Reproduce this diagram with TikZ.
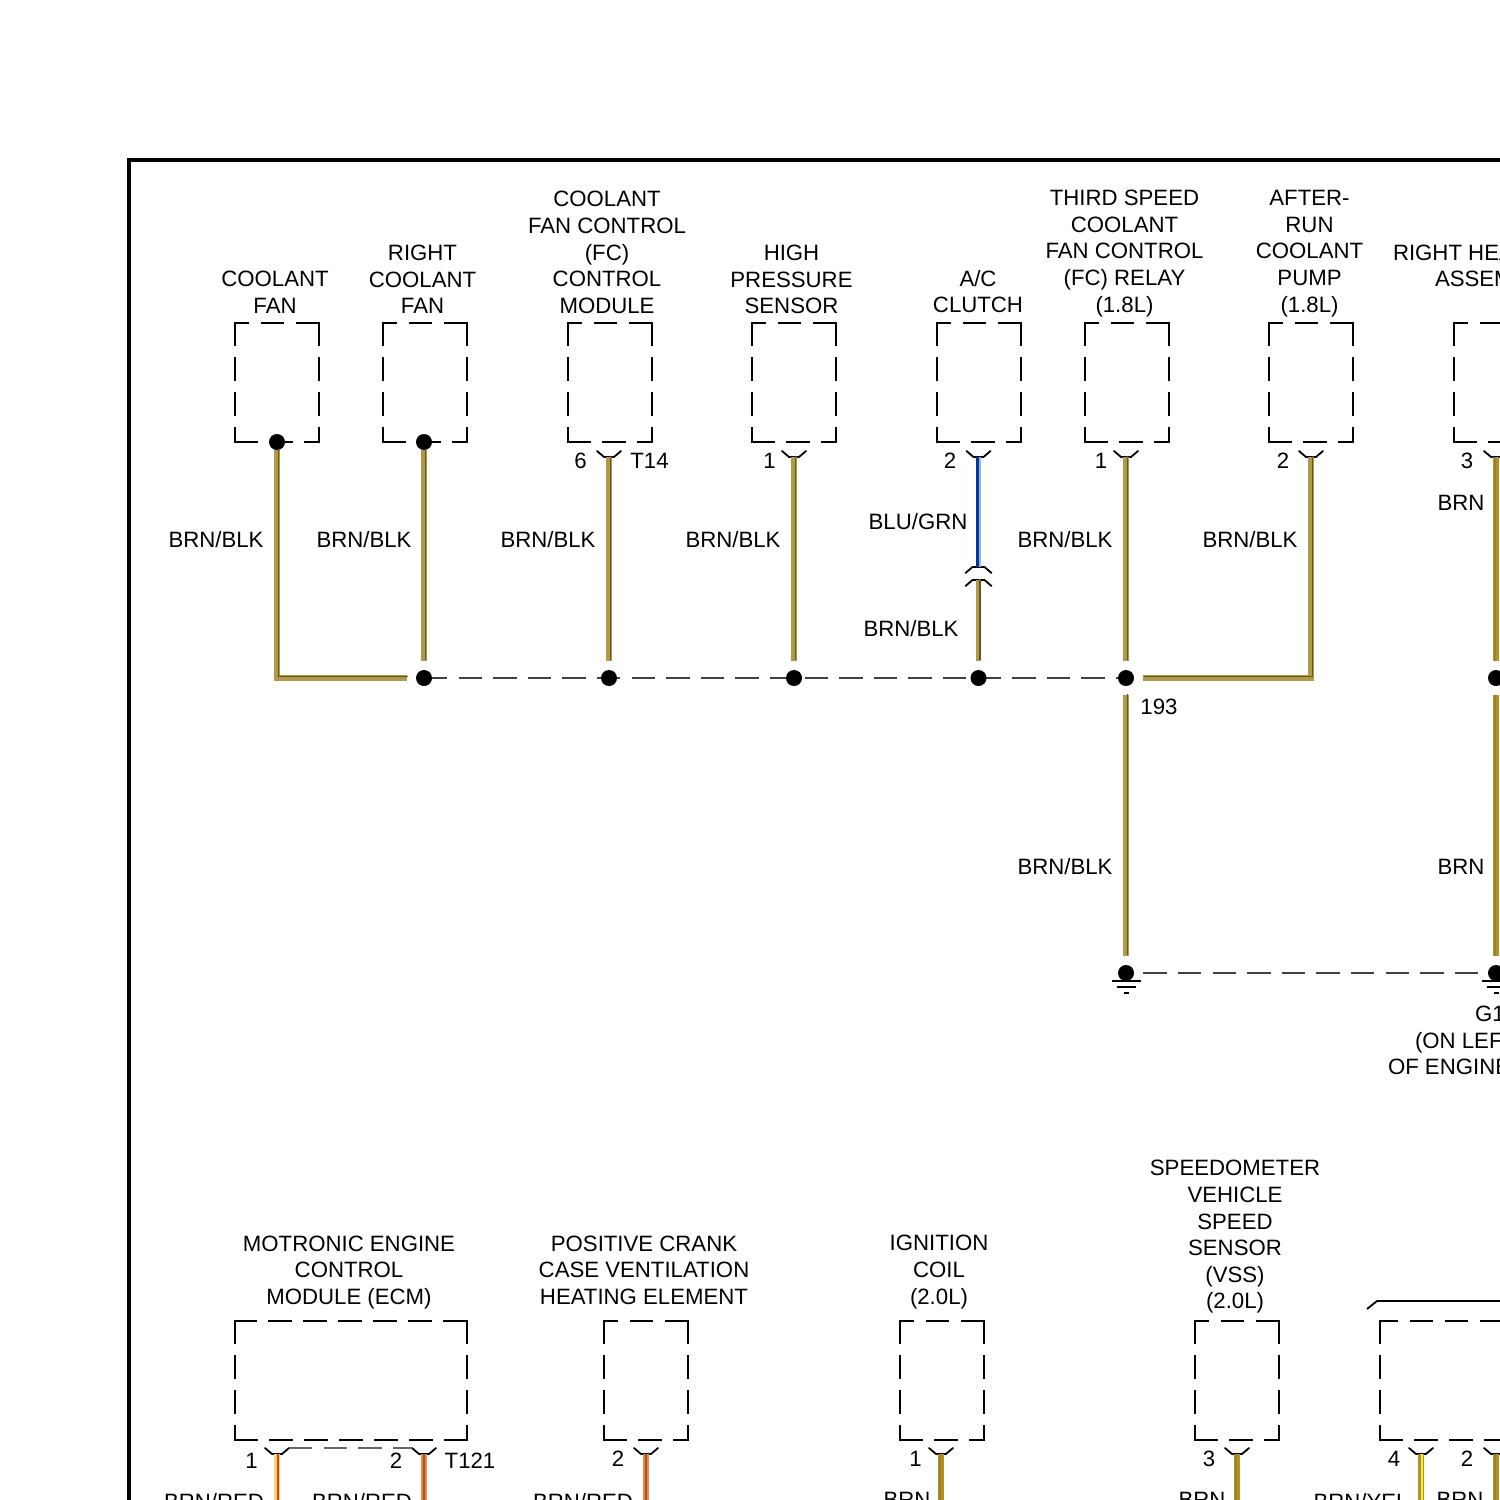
\documentclass[tikz,border=0pt]{standalone}
\usepackage{fontspec}
\usetikzlibrary{backgrounds}
\setmainfont{Liberation Sans}
\tikzset{
  lbl/.style={inner sep=0pt,outer sep=0pt,align=center,text=black,font=\fontsize{11.1}{13.3}\selectfont},
  lbll/.style={lbl,anchor=west,align=left},
  boxl/.style={draw=black,line width=.85pt,line cap=rect,dash pattern=on 10.9pt off 6.6pt},
  dot/.style={circle,fill=black,inner sep=0pt,minimum size=8pt,outer sep=0pt},
  socketl/.style={draw=black,line width=.9pt,line join=round,line cap=round},
  linkl/.style={draw=black!75,line width=.65pt,dash pattern=on 11.7pt off 5.6pt},
  gndl/.style={draw=black,line width=.8pt},
  frameline/.style={draw=black,line width=2pt,line join=miter},
  bkA/.style={draw=wirebk,line width=2.7pt,line cap=butt,line join=miter},
  bkB/.style={draw=wirebkd,line width=.7pt,line join=miter,transform canvas={xshift=.7pt,yshift=.7pt}},
  bnA/.style={draw=wirebn,line width=2.7pt},
  bnB/.style={draw=wirebnd,line width=.8pt,transform canvas={xshift=-.5pt}},
  blA/.style={draw=wirebg,line width=2.7pt},
  blB/.style={draw=wirebl,line width=1.6pt,transform canvas={xshift=-.4pt}},
  rdA/.style={draw=wirert,line width=2.7pt},
  rdB/.style={draw=wirer,line width=1.3pt,transform canvas={xshift=.4pt}},
  rcA/.style={draw=wirerc,line width=2.7pt},
  rcB/.style={draw=wirerd,line width=1.2pt},
  ylA/.style={draw=wirebn,line width=2.7pt},
  ylB/.style={draw=wirey,line width=1.2pt,transform canvas={xshift=.4pt}}
}
\definecolor{wirebk}{HTML}{AE9A48}
\definecolor{wirebkd}{HTML}{6B5518}
\definecolor{wirebn}{HTML}{B0902A}
\definecolor{wirebnd}{HTML}{A08020}
\definecolor{wirebg}{HTML}{86CBA8}
\definecolor{wirebl}{HTML}{0A2EB0}
\definecolor{wirert}{HTML}{F0D878}
\definecolor{wirer}{HTML}{E03A18}
\definecolor{wirerc}{HTML}{D89048}
\definecolor{wirerd}{HTML}{B84A20}
\definecolor{wirey}{HTML}{F8F040}
\newcommand{\dbox}[5]{%
  \draw[boxl,dash phase=#5] (#1,#2) -- (#3,#2);
  \draw[boxl] (#3,#2) -- (#3,#4);
  \draw[boxl] (#1,#2) -- (#1,#4);
  \draw[boxl] (#1,#4) -- (#3,#4);
}
\newcommand{\sock}[3]{%
  \coordinate (#1) at (#2,#3);
  \draw[socketl] ([shift={(-12,-6)}]#1) -- ([shift={(-5,0)}]#1) -- ([shift={(5,0)}]#1) -- ([shift={(12,-6)}]#1);
}
\newcommand{\wirep}[3]{\draw[#1A,#2] #3; \draw[#1B,#2] #3;}
\newcommand{\gnd}[1]{%
  \draw[gndl] ([shift={(-14.5,8)}]#1.center) -- ([shift={(14.5,8)}]#1.center);
  \draw[gndl] ([shift={(-9.5,14)}]#1.center) -- ([shift={(9.5,14)}]#1.center);
  \draw[gndl] ([shift={(-2.5,20)}]#1.center) -- ([shift={(2.5,20)}]#1.center);
}
\begin{document}
\begin{tikzpicture}[x=.5pt,y=-.5pt]
\path[use as bounding box] (0,0) rectangle (1500,1500);
\clip (0,0) rectangle (1500,1500);
\draw[frameline] (129,1510) -- (129,160) -- (1510,160);

% boxes, top row
\dbox{235}{323}{319}{442}{4.3pt}
\dbox{383}{323}{467}{442}{4.3pt}
\dbox{568}{323}{652}{442}{4.3pt}
\dbox{752}{323}{836}{442}{4.3pt}
\dbox{937}{323}{1021}{442}{4.3pt}
\dbox{1085}{323}{1169}{442}{4.3pt}
\dbox{1269}{323}{1353}{442}{4.3pt}
\dbox{1454}{323}{1538}{442}{4.3pt}
% boxes, bottom row
\dbox{235}{1321}{467}{1440}{0.5pt}
\dbox{604}{1321}{688}{1440}{4.3pt}
\dbox{900}{1321}{984}{1440}{4.3pt}
\dbox{1195}{1321}{1279}{1440}{4.3pt}
\dbox{1380}{1321}{1612}{1440}{2.2pt}
\draw[draw=black,line width=.9pt] (1367,1309) -- (1377,1301) -- (1510,1301);

% dots
\node[dot] (d1) at (277,442) {};
\node[dot] (d2) at (424,442) {};
\node[dot] (j2) at (424,678) {};
\node[dot] (j3) at (609,678) {};
\node[dot] (j4) at (794,678) {};
\node[dot] (j5) at (978.5,678) {};
\node[dot] (j6) at (1126,678) {};
\node[dot] (j7) at (1496,678) {};
\node[dot] (g1) at (1126,973) {};
\node[dot] (g2) at (1496,973) {};
\gnd{g1}
\gnd{g2}

% sockets
\sock{s3}{609}{457}
\sock{s4}{794}{457}
\sock{s5}{978.5}{457}
\sock{s6}{1126}{457}
\sock{s7}{1311}{457}
\sock{s8}{1496}{457}
\sock{b1}{277}{1454}
\sock{b2}{424}{1454}
\sock{b3}{646}{1454}
\sock{b4}{941}{1454}
\sock{b5}{1237}{1454}
\sock{b6}{1421}{1454}
\sock{b7}{1496}{1454}

% in-line connector
\coordinate (ct) at (978.5,567);
\coordinate (cb) at (978.5,580);
\draw[socketl] ([shift={(-13,6)}]ct) -- ([shift={(-6,0)}]ct) -- ([shift={(6,0)}]ct) -- ([shift={(13,6)}]ct);
\draw[socketl] ([shift={(-13,6)}]cb) -- ([shift={(-6,0)}]cb) -- ([shift={(6,0)}]cb) -- ([shift={(13,6)}]cb);

% free wire ends and corners
\coordinate (c1) at (277,678);
\coordinate (c2) at (1311,678);
\coordinate (e1) at (277,1510);
\coordinate (e2) at (424,1510);
\coordinate (e3) at (646,1510);
\coordinate (e4) at (941,1510);
\coordinate (e5) at (1237,1510);
\coordinate (e6) at (1421,1510);
\coordinate (e7) at (1496,1510);

% dashed links, behind the dots
\begin{pgfonlayer}{background}
\draw[linkl] (j2.center) -- (j3.center) -- (j4.center) -- (j5.center) -- (j6.center);
\draw[linkl,dash phase=8.65pt] (g1.center) -- (g2.center);
\end{pgfonlayer}
\draw[linkl,draw=black!60] ([xshift=6pt,yshift=3pt]b1) -- ([xshift=-6pt,yshift=3pt]b2);

% wires
\wirep{bk}{shorten >=4.5pt}{(d1) -- (c1) -- (j2)}
\wirep{bk}{shorten >=4.5pt}{(d2) -- (j2)}
\wirep{bk}{shorten >=4.5pt}{(s3) -- (j3)}
\wirep{bk}{shorten >=4.5pt}{(s4) -- (j4)}
\wirep{bl}{}{(s5) -- (ct)}
\wirep{bk}{shorten >=4.5pt}{(cb) -- (j5)}
\wirep{bk}{shorten >=4.5pt}{(s6) -- (j6)}
\wirep{bk}{shorten >=4.5pt}{(s7) -- (c2) -- (j6)}
\wirep{bk}{shorten <=4.5pt,shorten >=4.5pt}{(j6) -- (g1)}
\wirep{bn}{shorten >=4.5pt}{(s8) -- (j7)}
\wirep{bn}{shorten <=4.5pt,shorten >=4.5pt}{(j7) -- (g2)}
\wirep{rd}{}{(b1) -- (e1)}
\wirep{rc}{}{(b2) -- (e2)}
\wirep{rc}{}{(b3) -- (e3)}
\wirep{bn}{}{(b4) -- (e4)}
\wirep{bn}{}{(b5) -- (e5)}
\wirep{yl}{}{(b6) -- (e6)}
\wirep{bn}{}{(b7) -- (e7)}

% component labels
\node[lbl] (t1) at (275,292.5) {COOLANT\\FAN};
\node[lbl] (t2) at (422.5,279.5) {RIGHT\\COOLANT\\FAN};
\node[lbl] (t3) at (607,252.5) {COOLANT\\FAN CONTROL\\(FC)\\CONTROL\\MODULE};
\node[lbl] (t4) at (791.5,279.5) {HIGH\\PRESSURE\\SENSOR};
\node[lbl] (t5) at (978,291.5) {A/C\\CLUTCH};
\node[lbl] (t6) at (1124.5,253.5) {THIRD SPEED\\COOLANT\\FAN CONTROL\\(FC) RELAY\\(1.8L)};
\node[lbl] (t7) at (1309.5,253.5) {AFTER-\\RUN\\COOLANT\\PUMP\\(1.8L)};
\node[lbll] (t8) at (1393,253) {RIGHT HEA};
\node[lbll] (t9) at (1435,279) {ASSEM};
\node[lbll] (g1a) at (1475,1014) {G1};
\node[lbll] (g1b) at (1415,1043) {(ON LEF};
\node[lbll] (g1c) at (1388,1067) {OF ENGINE};
\node[lbl] (u1) at (349,1272.5) {MOTRONIC ENGINE\\CONTROL\\MODULE (ECM)};
\node[lbl] (u2) at (644,1270) {POSITIVE CRANK\\CASE VENTILATION\\HEATING ELEMENT};
\node[lbl] (u3) at (939,1272) {IGNITION\\COIL\\(2.0L)};
\node[lbl] (u4) at (1235,1237) {SPEEDOMETER\\VEHICLE\\SPEED\\SENSOR\\(VSS)\\(2.0L)};

% pin labels
\node[lbl] (p1) at (580.5,460.5) {6};
\node[lbl] (p2) at (649.5,460.5) {T14};
\node[lbl] (p3) at (769.5,460.5) {1};
\node[lbl] (p4) at (950,460.5) {2};
\node[lbl] (p5) at (1101,460.5) {1};
\node[lbl] (p6) at (1283,460.5) {2};
\node[lbl] (p7) at (1467,460.5) {3};
\node[lbl] (p8) at (251.5,1460.5) {1};
\node[lbl] (p9) at (396,1460.5) {2};
\node[lbl] (p10) at (470,1460.5) {T121};
\node[lbl] (p11) at (618,1458.5) {2};
\node[lbl] (p12) at (915.5,1458.5) {1};
\node[lbl] (p13) at (1209,1458.5) {3};
\node[lbl] (p14) at (1394,1458.5) {4};
\node[lbl] (p15) at (1467,1458.5) {2};
\node[lbl] (p16) at (1159,706.5) {193};

% wire labels
\node[lbl] (w1) at (216,540) {BRN/BLK};
\node[lbl] (w2) at (364,540) {BRN/BLK};
\node[lbl] (w3) at (548,540) {BRN/BLK};
\node[lbl] (w4) at (733,540) {BRN/BLK};
\node[lbl] (w5) at (918,522) {BLU/GRN};
\node[lbl] (w6) at (911,629) {BRN/BLK};
\node[lbl] (w7) at (1065,540) {BRN/BLK};
\node[lbl] (w8) at (1250,540) {BRN/BLK};
\node[lbl] (w9) at (1461,502.5) {BRN};
\node[lbl] (w10) at (1461,866.5) {BRN};
\node[lbl] (w11) at (1065,867) {BRN/BLK};
\node[lbl] (w12) at (214,1502) {BRN/RED};
\node[lbl] (w13) at (362,1502) {BRN/RED};
\node[lbl] (w14) at (583,1502) {BRN/RED};
\node[lbl] (w15) at (907,1500) {BRN};
\node[lbl] (w16) at (1202,1500) {BRN};
\node[lbl] (w17) at (1361,1502) {BRN/YEL};
\node[lbl] (w18) at (1460,1500) {BRN};
\end{tikzpicture}
\end{document}
